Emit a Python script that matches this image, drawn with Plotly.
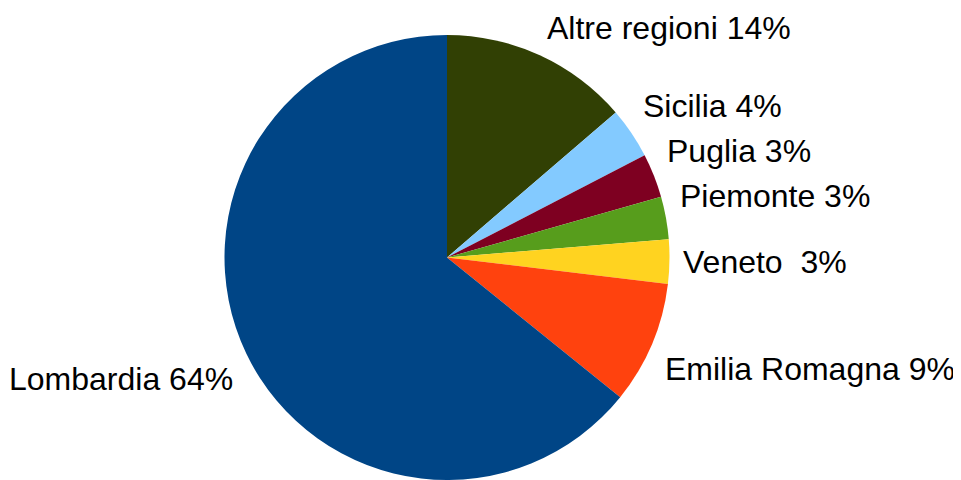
import math
import plotly.graph_objects as go

# Regioni e quote (in senso orario dalle ore 12)
regioni = ['Altre regioni', 'Sicilia', 'Puglia', 'Piemonte', 'Veneto', 'Emilia Romagna', 'Lombardia']
quote = [13.7, 3.7, 3.2, 3.1, 3.2, 8.9, 64.2]
etichette = ['Altre regioni 14%', 'Sicilia 4%', 'Puglia 3%', 'Piemonte 3%',
             'Veneto  3%', 'Emilia Romagna 9%', 'Lombardia 64%']
colori = ['#314004', '#83caff', '#7e0021', '#579d1c', '#ffd320', '#ff420e', '#004586']

W, H = 961, 480
# centro e raggio della torta in pixel (la pagina ha 8px di margine nel body)
cx, cy, r = 439, 249.5, 222.5

fig = go.Figure()

fig.add_trace(go.Pie(
    labels=regioni,
    values=quote,
    textinfo='none',
    sort=False,
    direction='clockwise',
    rotation=0,
    marker=dict(colors=colori, line=dict(width=0)),
    hoverinfo='label+percent',
    showlegend=False,
    domain=dict(x=[(cx - r) / W, (cx + r) / W], y=[1 - (cy + r) / H, 1 - (cy - r) / H])
))

# etichette esterne stile LibreOffice, posizionate sull'angolo medio di ogni fetta
totale = sum(quote)
cum = 0
for testo, q in zip(etichette, quote):
    ang = 2 * math.pi * (cum + q / 2) / totale
    cum += q
    dx, dy = math.sin(ang), -math.cos(ang)
    px = cx + (r + 12) * dx
    py = cy + (r + 12) * dy
    xa = 'left' if dx >= 0 else 'right'
    xs = 2 if dx >= 0 else -2
    if abs(dy) < 0.1:
        ya, ys = 'middle', 0
    elif dy < 0:
        ya, ys = 'bottom', 2
    else:
        ya, ys = 'top', -2
    # tieni il riquadro del testo dentro il bordo superiore
    ys = min(ys, py - 38)
    fig.add_annotation(
        x=px / W, y=1 - py / H, xref='paper', yref='paper',
        text=testo, showarrow=False, xanchor=xa, yanchor=ya,
        xshift=xs, yshift=ys, borderpad=0, borderwidth=0,
        font=dict(family='Liberation Sans', size=32, color='#000000')
    )

fig.update_layout(
    width=W,
    height=H,
    margin=dict(l=0, r=0, t=0, b=0),
    paper_bgcolor='white',
    plot_bgcolor='white'
)

fig.write_html("out.html")
